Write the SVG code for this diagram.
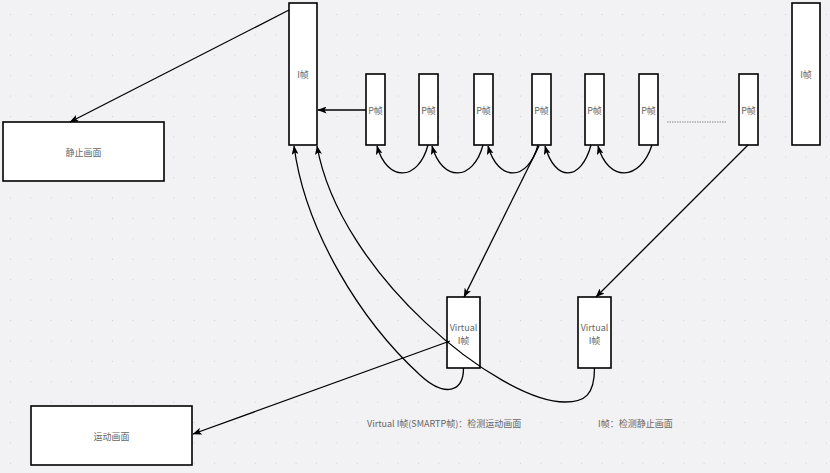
<svg xmlns="http://www.w3.org/2000/svg" width="830" height="473" viewBox="0 0 830 473">
<defs>
<pattern id="grid" x="10" y="14" width="20.4" height="20.4" patternUnits="userSpaceOnUse">
<rect x="0" y="0" width="1" height="1" fill="#cfcfd4"/>
</pattern>
<marker id="arr" viewBox="0 0 9 7" refX="8.5" refY="3.5" markerWidth="9" markerHeight="7" markerUnits="userSpaceOnUse" orient="auto">
<path d="M0,0 L9,3.5 L0,7 L2,3.5 z" fill="#000"/>
</marker>
<style>
.box{fill:#fff;stroke:#000;stroke-width:1.6}
.lbl{font-family:"Noto Sans CJK SC","Noto Sans",sans-serif;font-size:9px;fill:#666;text-anchor:middle;dominant-baseline:central}
.note{font-family:"Noto Sans CJK SC","Noto Sans",sans-serif;font-size:9px;fill:#666;dominant-baseline:central}
.edge{fill:none;stroke:#000;stroke-width:1.3;marker-end:url(#arr)}
</style>
</defs>
<rect width="830" height="473" fill="#f2f2f4"/>
<rect width="830" height="473" fill="url(#grid)"/>

<g id="iframe-left"><rect class="box" x="289" y="3" width="28" height="142"/><text class="lbl" x="303" y="74">I帧</text></g>
<g id="still"><rect class="box" x="3" y="122" width="161" height="59"/><text class="lbl" x="83.5" y="152">静止画面</text></g>
<g id="iframe-right"><rect class="box" x="792" y="3" width="28" height="142"/><text class="lbl" x="806" y="74">I帧</text></g>
<g id="p1"><rect class="box" x="366" y="74" width="19" height="71"/><text class="lbl" x="375.5" y="110">P帧</text></g>
<g id="p2"><rect class="box" x="419" y="74" width="19" height="71"/><text class="lbl" x="428.5" y="110">P帧</text></g>
<g id="p3"><rect class="box" x="474" y="74" width="19" height="71"/><text class="lbl" x="483.5" y="110">P帧</text></g>
<g id="p4"><rect class="box" x="532" y="74" width="19" height="71"/><text class="lbl" x="541.5" y="110">P帧</text></g>
<g id="p5"><rect class="box" x="585" y="74" width="19" height="71"/><text class="lbl" x="594.5" y="110">P帧</text></g>
<g id="p6"><rect class="box" x="639" y="74" width="19" height="71"/><text class="lbl" x="648.5" y="110">P帧</text></g>
<g id="p7"><rect class="box" x="739" y="74" width="19" height="71"/><text class="lbl" x="748.5" y="110">P帧</text></g>
<g id="virtual1"><rect class="box" x="447" y="297" width="33" height="71"/><text class="lbl" x="463.5" y="327">Virtual</text><text class="lbl" x="463.5" y="340">I帧</text></g>
<g id="virtual2"><rect class="box" x="578" y="297" width="33" height="71"/><text class="lbl" x="594.5" y="327">Virtual</text><text class="lbl" x="594.5" y="340">I帧</text></g>
<g id="motion"><rect class="box" x="31" y="406" width="161" height="59"/><text class="lbl" x="111.5" y="436">运动画面</text></g>
<g id="note1"><text class="note" x="367" y="423">Virtual I帧(SMARTP帧)：检测运动画面</text></g>
<g id="note2"><text class="note" x="598" y="423">I帧：检测静止画面</text></g>

<g id="connectors">
<path class="edge" d="M289 10 L70 122"/>
<path class="edge" d="M366 110 L318 110"/>
<path class="edge" d="M428 145 C418 182, 387 182, 377 146"/>
<path class="edge" d="M483 145 C473 182, 442 182, 432 146"/>
<path class="edge" d="M538 145 C528 182, 498 182, 488 146"/>
<path class="edge" d="M591 145 C581 182, 555 182, 545 146"/>
<path class="edge" d="M652 145 C640 182, 608 182, 598 146"/>
<path class="edge" d="M539 146 L464 297"/>
<path class="edge" d="M748 145 L596 297"/>
<path class="edge" d="M450 341 L193 434"/>
<path class="edge" d="M463.5 368 C463.5 392, 445 398, 420 375 C360 320, 305 230, 294 146"/>
<path class="edge" d="M594.5 368 C594.5 395, 585 402, 565 402 C500 402, 340 275, 317 146"/>
<line x1="667" y1="122" x2="726" y2="122" stroke="#888" stroke-width="1" stroke-dasharray="1.5,1"/>
</g>
</svg>
